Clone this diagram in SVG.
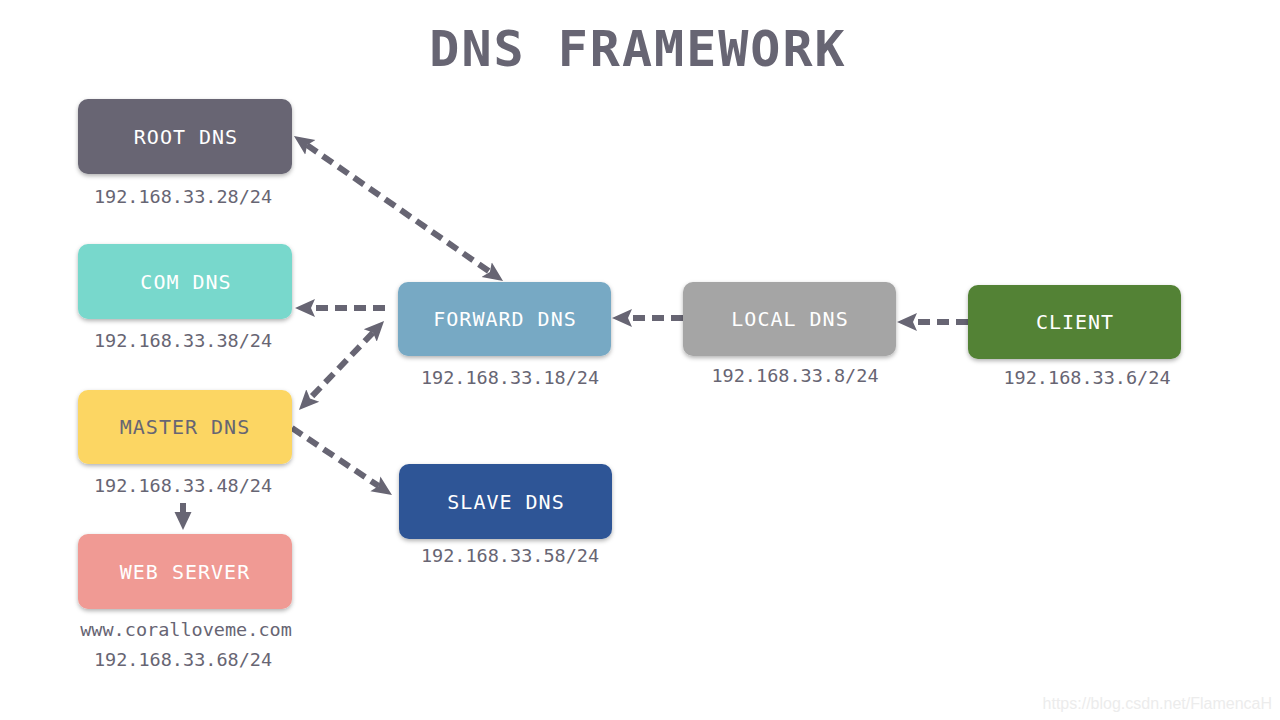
<svg xmlns="http://www.w3.org/2000/svg" width="1280" height="720" viewBox="0 0 1280 720">
<defs>
<filter id="sh" x="-10%" y="-10%" width="120%" height="130%">
<feDropShadow dx="0" dy="2" stdDeviation="2" flood-color="#000" flood-opacity="0.3"/>
</filter>
<marker id="ah" markerUnits="userSpaceOnUse" markerWidth="22" markerHeight="20" refX="4" refY="9" orient="auto-start-reverse" viewBox="0 0 22 18">
<path d="M0,0 L20,9 L0,18 L4,9 z" fill="#676573"/>
</marker>
</defs>
<style>
.box{filter:url(#sh);}
.lbl{font-family:"DejaVu Sans Mono","Liberation Mono",monospace;font-size:20px;letter-spacing:1px;text-anchor:middle;fill:#fff;}
.ip{font-family:"DejaVu Sans Mono","Liberation Mono",monospace;font-size:18.5px;text-anchor:middle;fill:#676573;}
.con{fill:none;stroke:#676573;stroke-width:6;stroke-dasharray:12 7;}
</style>
<rect width="1280" height="720" fill="#fff"/>
<text x="638" y="66" font-family="DejaVu Sans Mono, Liberation Mono, monospace" font-weight="bold" font-size="50" letter-spacing="2" text-anchor="middle" fill="#676573">DNS FRAMEWORK</text>

<g id="connectors">
<path class="con" d="M307.1,145.1 L489.9,271.9" marker-start="url(#ah)" marker-end="url(#ah)"/>
<path class="con" d="M385,308 L311,308" marker-end="url(#ah)"/>
<path class="con" d="M373,332.6 L310,398.4" marker-start="url(#ah)" marker-end="url(#ah)"/>
<path class="con" d="M292,428 L378.7,486.1" marker-end="url(#ah)"/>
<path class="con" d="M683,318 L628,318" marker-end="url(#ah)"/>
<path class="con" d="M968,322 L913,322" marker-end="url(#ah)"/>
<path d="M183,503 L183,513" stroke="#676573" stroke-width="6" fill="none"/>
<path d="M174.5,512 L191.5,512 L183,530 z" fill="#676573"/>
</g>

<g id="root">
<rect class="box" x="78" y="99" width="214" height="75" rx="10" fill="#676573"/>
<text class="lbl" x="186" y="144">ROOT DNS</text>
<text class="ip" x="183" y="203">192.168.33.28/24</text>
</g>
<g id="com">
<rect class="box" x="78" y="244" width="214" height="75" rx="10" fill="#78d8cc"/>
<text class="lbl" x="186" y="289">COM DNS</text>
<text class="ip" x="183" y="347">192.168.33.38/24</text>
</g>
<g id="master">
<rect class="box" x="78" y="390" width="214" height="74" rx="10" fill="#fcd664"/>
<text class="lbl" x="185" y="434" style="fill:#676573">MASTER DNS</text>
<text class="ip" x="183" y="492">192.168.33.48/24</text>
</g>
<g id="web">
<rect class="box" x="78" y="534" width="214" height="75" rx="10" fill="#f09a94"/>
<text class="lbl" x="185" y="579">WEB SERVER</text>
<text class="ip" x="186" y="636">www.coralloveme.com</text>
<text class="ip" x="183" y="666">192.168.33.68/24</text>
</g>
<g id="forward">
<rect class="box" x="398" y="282" width="213" height="74" rx="10" fill="#77a9c4"/>
<text class="lbl" x="505" y="326">FORWARD DNS</text>
<text class="ip" x="510" y="384">192.168.33.18/24</text>
</g>
<g id="slave">
<rect class="box" x="399" y="464" width="213" height="75" rx="10" fill="#2e5596"/>
<text class="lbl" x="506" y="509">SLAVE DNS</text>
<text class="ip" x="510" y="562">192.168.33.58/24</text>
</g>
<g id="local">
<rect class="box" x="683" y="282" width="213" height="74" rx="10" fill="#a5a5a5"/>
<text class="lbl" x="790" y="326">LOCAL DNS</text>
<text class="ip" x="795" y="382">192.168.33.8/24</text>
</g>
<g id="client">
<rect class="box" x="968" y="285" width="213" height="74" rx="10" fill="#528235"/>
<text class="lbl" x="1075" y="329">CLIENT</text>
<text class="ip" x="1087" y="384">192.168.33.6/24</text>
</g>
<text x="1272" y="709" font-family="Liberation Sans, Arial, sans-serif" font-size="16" text-anchor="end" fill="#ececec">https://blog.csdn.net/FlamencaH</text>
</svg>
